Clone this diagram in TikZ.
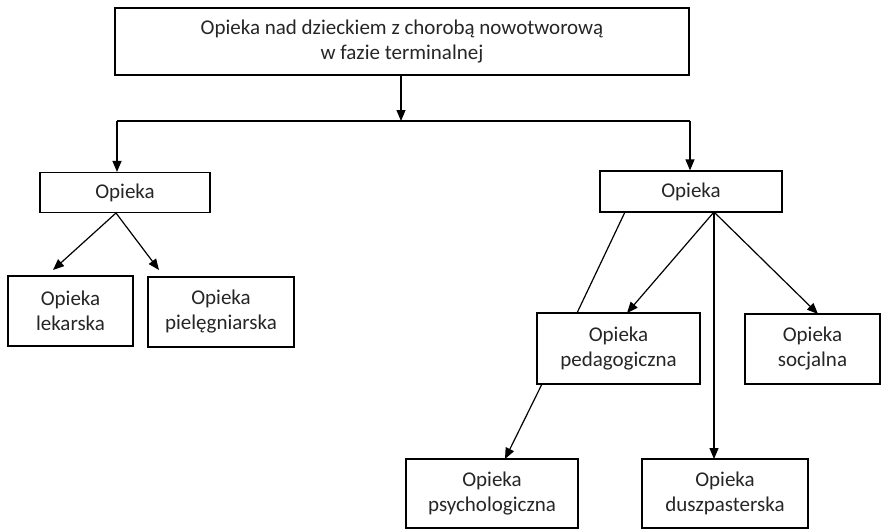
\documentclass[tikz,border=0pt]{standalone}
\usepackage{fontspec}
\setmainfont{Carlito}
\usetikzlibrary{arrows.meta}
\begin{document}
\begin{tikzpicture}[x=1pt,y=-1pt,
  box/.style={draw=black, line width=1.2pt, rectangle, inner sep=0pt, align=center,
    text=black!85, font=\fontsize{21}{25}\selectfont},
  conn/.style={draw=black, line width=1.2pt},
  arr/.style={conn, -{Triangle[length=11pt,width=9pt]}}]
\fill[white] (0,0) rectangle (886,530);
\useasboundingbox (0,0) rectangle (886,530);
% nodes
\node[box, minimum width=574pt, minimum height=67pt] (top) at (402,41.5) {Opieka nad dzieckiem z chorobą nowotworową\\w fazie terminalnej};
\node[box, minimum width=170pt, minimum height=40pt] (L) at (125,192.5) {Opieka};
\node[box, minimum width=182pt, minimum height=41pt] (R) at (691,191.5) {Opieka};
\node[box, minimum width=125pt, minimum height=70pt] (lek) at (70.5,311) {Opieka\\lekarska};
\node[box, minimum width=146pt, minimum height=70pt] (piel) at (221,312) {Opieka\\pielęgniarska};
\node[box, minimum width=163pt, minimum height=71pt] (ped) at (618.5,348.5) {Opieka\\pedagogiczna};
\node[box, minimum width=135pt, minimum height=70pt] (soc) at (812.5,349) {Opieka\\socjalna};
\node[box, minimum width=172pt, minimum height=69pt] (psy) at (492,493.5) {Opieka\\psychologiczna};
\node[box, minimum width=166pt, minimum height=69pt] (dus) at (725,493.5) {Opieka\\duszpasterska};
% coordinates
\coordinate (tj) at (401,75);
\coordinate (j) at (401,121);
\coordinate (jl) at (117,121);
\coordinate (jr) at (690,121);
\coordinate (La) at (116,213);
\coordinate (lekE) at (53,270);
\coordinate (pielE) at (159,270);
\coordinate (Ra) at (714,212);
\coordinate (Rb) at (625,212);
\coordinate (pedT) at (577,313);
\coordinate (pedB) at (542,384);
\coordinate (pedE) at (627,313);
\coordinate (socE) at (818,314);
\coordinate (dusE) at (714,459);
\coordinate (psyE) at (505,459);
% connectors
\draw[arr] (tj) -- (j);
\draw[conn] (jl) -- (jr);
\draw[arr] (jl) -- (L.north -| jl);
\draw[arr] (jr) -- (R.north -| jr);
\draw[arr] (La) -- (lekE);
\draw[arr] (La) -- (pielE);
\draw[arr] (Ra) -- (pedE);
\draw[arr] (Ra) -- (socE);
\draw[arr] (Ra) -- (dusE);
\draw[conn] (Rb) -- (pedT);
\draw[arr] (pedB) -- (psyE);
\end{tikzpicture}
\end{document}
